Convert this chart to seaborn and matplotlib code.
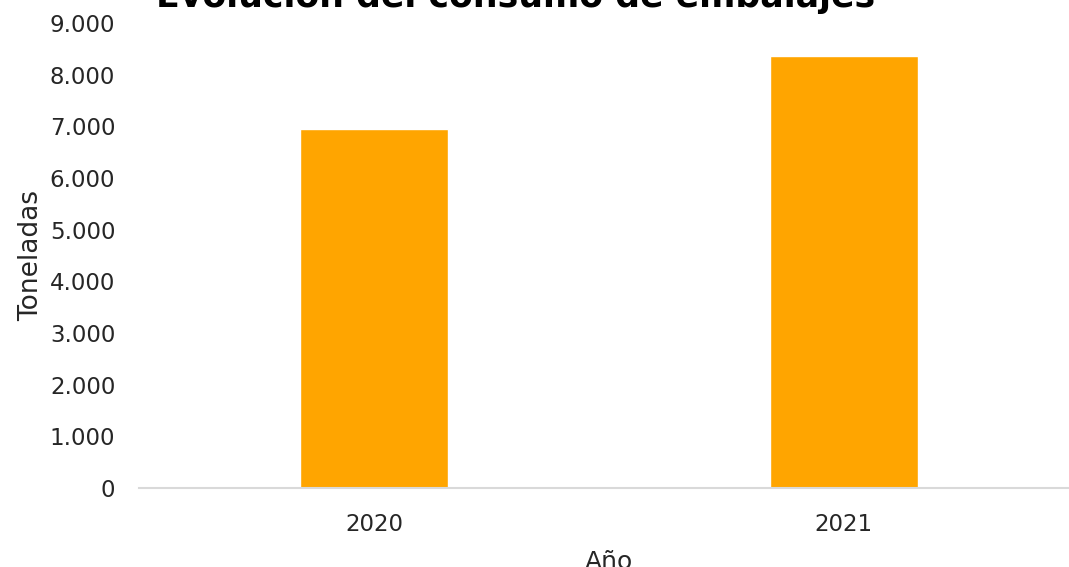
import matplotlib
matplotlib.use("Agg")
import matplotlib.pyplot as plt
from matplotlib.ticker import FuncFormatter, MultipleLocator
import pandas as pd
import seaborn as sns

years = ["2020", "2021"]
toneladas = [6940, 8360]

df = pd.DataFrame({"Año": years, "Toneladas": toneladas})

sns.set_theme(style="white")
plt.rcParams["font.family"] = ["DejaVu Sans"]

fig = plt.figure(figsize=(10.69, 5.67), dpi=100)
ax = fig.add_axes([0.130, 0.1393, 0.879, 0.8201])

sns.barplot(data=df, x="Año", y="Toneladas", color="#FFA500", saturation=1,
            width=0.315, ax=ax)

ax.set_xlim(-0.5, 1.5)
ax.set_ylim(0, 9000)
ax.yaxis.set_major_locator(MultipleLocator(1000))
ax.yaxis.set_major_formatter(FuncFormatter(lambda v, p: f"{int(v):,}".replace(",", ".")))

for side in ["top", "right", "left"]:
    ax.spines[side].set_visible(False)
ax.spines["bottom"].set_color("#d9d9d9")
ax.spines["bottom"].set_linewidth(1.5)

ax.tick_params(axis="both", length=0, labelsize=16.5, colors="#262626")
ax.tick_params(axis="y", pad=17)
ax.tick_params(axis="x", pad=18)

ax.set_xlabel("Año", fontsize=18, color="#262626", labelpad=10)
ax.set_ylabel("Toneladas", fontsize=19, color="#262626", labelpad=4)

fig.text(0.482, 0.988, "Evolución del consumo de embalajes", ha="center",
         va="baseline", fontsize=25, fontweight="bold", color="black")

fig.savefig("out.png", dpi=100)
